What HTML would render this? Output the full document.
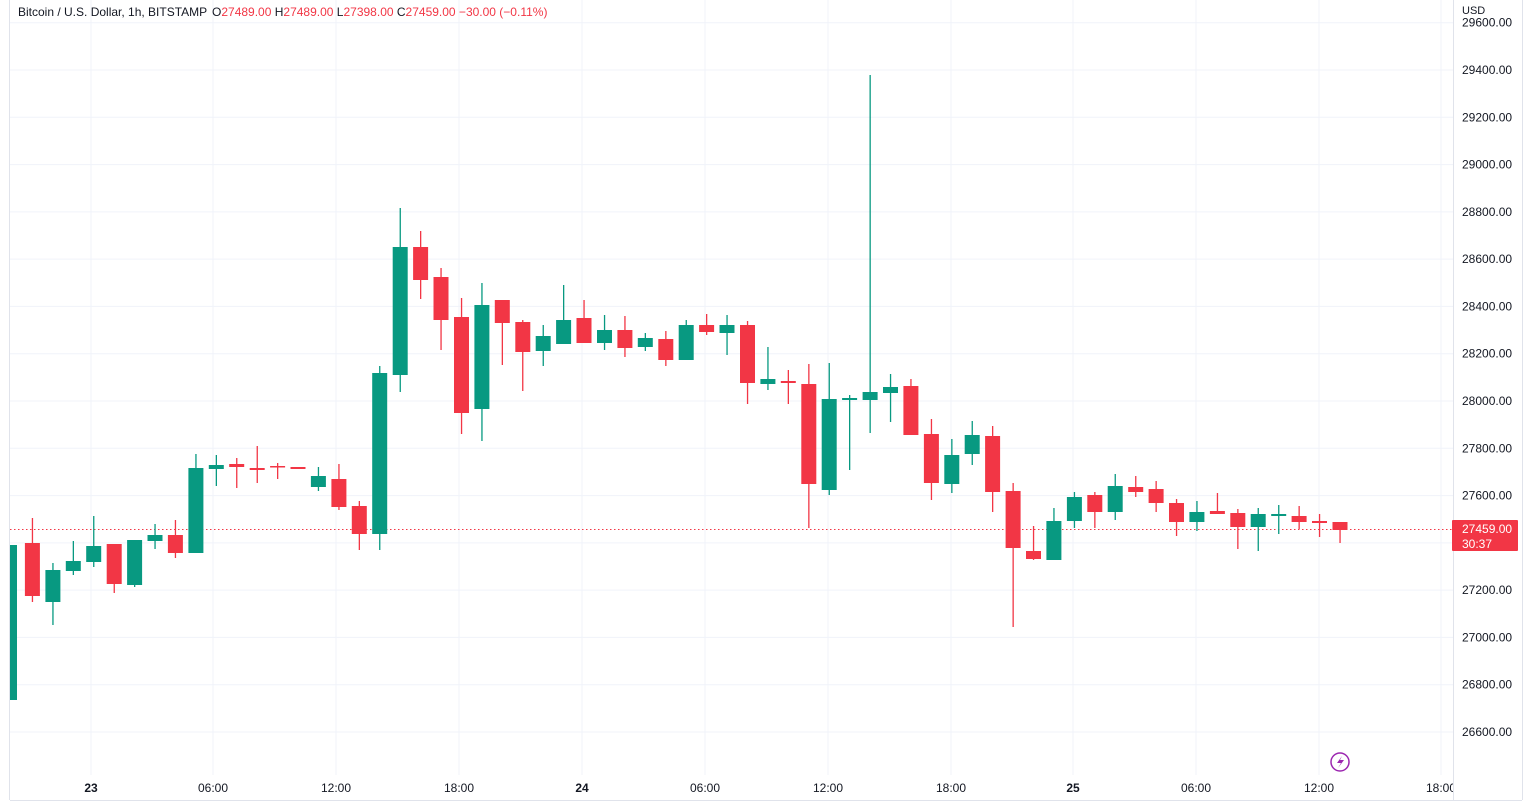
<!DOCTYPE html>
<html><head><meta charset="utf-8"><style>
body{margin:0;background:#fff;width:1533px;height:807px;overflow:hidden;font-family:"Liberation Sans",sans-serif}
svg{display:block}
</style></head><body>
<svg id="s" width="1533" height="807" xmlns="http://www.w3.org/2000/svg" font-family="Liberation Sans, sans-serif">
<rect x="0" y="0" width="1533" height="807" fill="#fff"/>
<g id="grid" stroke="#f0f3fa" stroke-width="1"></g>
<line x1="10" y1="529.5" x2="1453" y2="529.5" stroke="#f23645" stroke-width="1" stroke-dasharray="1.5,2.5"/>
<g id="c"></g>
<line x1="1453.5" y1="0" x2="1453.5" y2="800" stroke="#e0e3eb"/>
<line x1="10" y1="800.5" x2="1522" y2="800.5" stroke="#e0e3eb"/>
<line x1="1522.5" y1="0" x2="1522.5" y2="800" stroke="#e0e3eb"/>
<line x1="9.5" y1="0" x2="9.5" y2="800" stroke="#e0e3eb"/>
<g id="pl" font-size="12" fill="#131722"></g>
<text x="1462" y="14" font-size="11" fill="#131722">USD</text>
<svg x="0" y="775" width="1453" height="25"><g id="tl" font-size="12" fill="#131722" text-anchor="middle"></g></svg>
<rect x="1452" y="520" width="66" height="31" fill="#f23645" rx="1"/>
<text x="1462" y="533" font-size="12" fill="#fff">27459.00</text>
<text x="1462" y="548" font-size="12" fill="#fff">30:37</text>
<circle cx="1340" cy="762" r="9" fill="none" stroke="#9c27b0" stroke-width="1.5"/>
<path d="M1342 756 L1337 763 L1341 763 L1338 768 L1344 760 L1340 760 Z" fill="#9c27b0"/>
<text x="18" y="16" font-size="12" fill="#131722">Bitcoin / U.S. Dollar, 1h, BITSTAMP</text>
<text x="212" y="16" font-size="12" fill="#f23645"><tspan fill="#131722">O</tspan>27489.00 <tspan fill="#131722">H</tspan>27489.00 <tspan fill="#131722">L</tspan>27398.00 <tspan fill="#131722">C</tspan>27459.00  −30.00 (−0.11%)</text>
</svg>
<script>
var NS="http://www.w3.org/2000/svg";
function el(p,t,a,txt){var e=document.createElementNS(NS,t);for(var k in a)e.setAttribute(k,a[k]);if(txt)e.textContent=txt;p.appendChild(e);return e;}
var g=document.getElementById('grid'),pl=document.getElementById('pl'),tl=document.getElementById('tl');
for(var i=0;i<=15;i++){var p=29600-200*i;var y=70+(29400-p)*0.23643;
 if(y<790)el(g,'line',{x1:10,x2:1453,y1:y.toFixed(1),y2:y.toFixed(1)});
 el(pl,'text',{x:1462,y:(y+4).toFixed(1)},p+'.00');}
var tx=[[91,'23',1],[213,'06:00'],[336,'12:00'],[459,'18:00'],[582,'24',1],[705,'06:00'],[828,'12:00'],[951,'18:00'],[1073,'25',1],[1196,'06:00'],[1319,'12:00'],[1441,'18:00']];
tx.forEach(function(t){el(g,'line',{x1:t[0],x2:t[0],y1:0,y2:775});var a={x:t[0],y:17};if(t[2])a['font-weight']='bold';el(tl,'text',a,t[1]);});
// [color, bodyTop, bodyBottom, wickTop, wickBottom]
var C=[
['g',545,700,545,700],['r',543,596,518,602],['g',570,602,563,625],['g',561,571,541,575],['g',546,562,516,567],
['r',544,584,544,593],['g',540,585,540,587],['g',535,541,524,549],['r',535,553,520,558],['g',468,553,454,553],
['g',465,469,455,486],['r',464,467,458,488],['r',468,470,446,483],['r',466,467,463,479],['r',467,469,467,469],
['g',476,487,467,491],['r',479,507,464,510],['r',506,534,501,550],['g',373,534,366,550],['g',247,375,208,392],
['r',247,280,231,299],['r',277,320,268,350],['r',317,413,298,434],['g',305,409,283,441],['r',300,323,300,365],
['r',322,352,320,391],['g',336,351,325,366],['g',320,344,285,344],['r',318,343,300,343],['g',330,343,315,350],
['r',330,348,316,357],['g',338,347,333,351],['r',339,360,331,366],['g',325,360,320,360],['r',325,332,314,335],
['g',325,333,315,355],['r',325,383,321,404],['g',379,384,347,390],['r',381,383,370,404],['r',384,484,364,528],
['g',399,490,363,495],['g',398,400,395,470],['g',392,400,75,433],['g',387,393,374,422],['r',386,435,379,435],
['r',434,483,419,500],['g',455,484,439,493],['g',435,454,421,465],['r',436,492,426,512],['r',491,548,483,627],
['r',551,559,526,560],['g',521,560,508,560],['g',497,521,492,528],['r',495,512,492,528],['g',486,512,474,520],
['r',487,492,476,497],['r',489,503,481,512],['r',503,522,499,536],['g',512,522,501,531],['r',511,514,493,514],
['r',513,527,509,549],['g',514,527,508,551],['g',514,516,505,534],['r',516,522,506,529],['r',521,523,514,537],
['r',522,530,522,543]];
var cg=document.getElementById('c');
C.forEach(function(c,i){var x=12+i*20.43;var col=c[0]=='g'?'#089981':'#f23645';
 el(cg,'rect',{x:(x-0.6).toFixed(1),y:c[3],width:1.3,height:Math.max(1,c[4]-c[3]),fill:col});
 var bx=x-7.5,w=15;if(i==0){bx=10;w=7;}
 el(cg,'rect',{x:bx.toFixed(1),y:c[1],width:w,height:Math.max(1.5,c[2]-c[1]),fill:col});});
</script>
</body></html>
